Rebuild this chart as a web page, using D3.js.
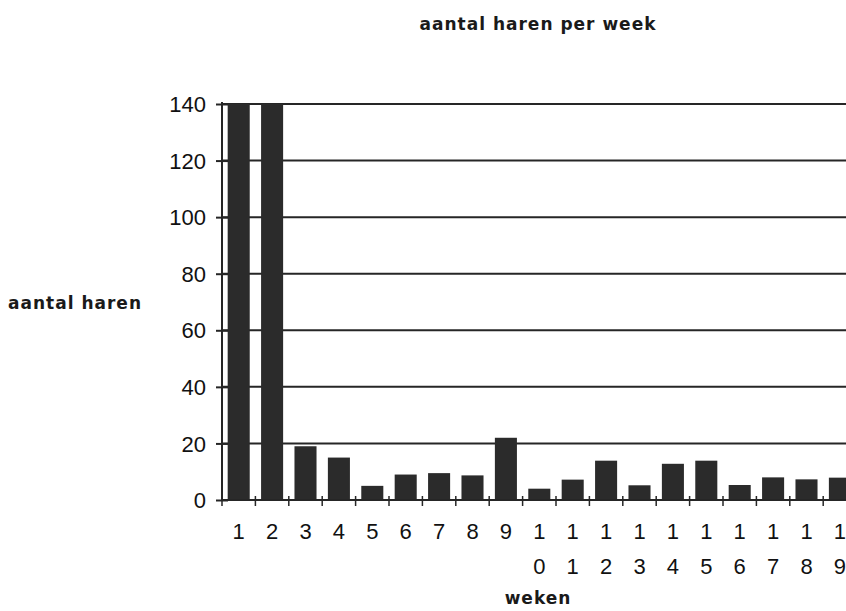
<!DOCTYPE html>
<html><head><meta charset="utf-8">
<script src="https://cdn.jsdelivr.net/npm/d3@7"></script>
<style>body{margin:0;background:#fff}svg{display:block}</style>
</head><body>
<script>
const weeks = ["1","2","3","4","5","6","7","8","9","10","11","12","13","14","15","16","17","18","19"];
const haren = [140,140,19,15,5,9,9.5,8.7,22,4,7.2,13.9,5.2,12.8,13.9,5.3,8,7.3,7.9];
const yTicks = [0,20,40,60,80,100,120,140];

const W=846,H=611;
const svg=d3.select("body").append("svg").attr("width",W).attr("height",H);
const x0=222, x1=222+33.4*19, yTop=104, yBot=500;
const x=d3.scaleBand().domain(weeks).range([x0,x1]).paddingInner(0.34).paddingOuter(0.17);
const y=d3.scaleLinear().domain([0,140]).range([yBot,yTop]);
const ink="#262626";

// gridlines
svg.append("g").selectAll("line").data(yTicks.filter(d=>d>0)).join("line")
  .attr("x1",x0).attr("x2",W).attr("y1",d=>y(d)).attr("y2",d=>y(d))
  .attr("stroke",ink).attr("stroke-width",2);

// bars
svg.append("g").selectAll("rect").data(haren).join("rect")
  .attr("x",(d,i)=>x(weeks[i])).attr("width",x.bandwidth())
  .attr("y",d=>y(Math.min(d,140))).attr("height",d=>yBot-y(Math.min(d,140)))
  .attr("fill","#2b2b2b");

// y axis
const ya=d3.axisLeft(y).tickValues(yTicks).tickSize(0).tickPadding(0).tickFormat(d3.format("d"));
const gy=svg.append("g").attr("transform",`translate(${x0},0)`).call(ya);
gy.select(".domain").remove();
gy.selectAll("text").attr("x",-16).attr("dy","0.35em").attr("fill","#111")
  .style("font-family","Liberation Sans, Arial, sans-serif").style("font-size","22px");
gy.selectAll(".tick").append("line").attr("x1",-6).attr("x2",6).attr("stroke",ink).attr("stroke-width",2);
svg.append("line").attr("x1",x0).attr("x2",x0).attr("y1",yTop-2).attr("y2",yBot+1).attr("stroke",ink).attr("stroke-width",2);

// x axis line
svg.append("line").attr("x1",x0).attr("x2",W).attr("y1",yBot).attr("y2",yBot).attr("stroke",ink).attr("stroke-width",2);
// x boundary ticks
const bounds=weeks.map((w,i)=>x0+ (x1-x0)/weeks.length*(i+1));
svg.append("g").selectAll("line").data([x0,...bounds]).join("line")
  .attr("x1",d=>d).attr("x2",d=>d).attr("y1",yBot-4).attr("y2",yBot+6)
  .attr("stroke",ink).attr("stroke-width",1.5);

// x labels (stacked digits)
const xl=svg.append("g").style("font-family","Liberation Sans, Arial, sans-serif").style("font-size","22px").attr("fill","#111");
weeks.forEach(w=>{
  const cx=x(w)+x.bandwidth()/2;
  w.split("").forEach((ch,j)=>{
    xl.append("text").attr("x",cx).attr("y",531+j*35).attr("dy","0.35em").attr("text-anchor","middle").text(ch);
  });
});

const lab={"font-family":"DejaVu Sans, sans-serif","font-size":"17px","font-weight":"bold","letter-spacing":"1px"};
function t(txt,xx,yy,anchor){const e=svg.append("text").attr("x",xx).attr("y",yy).attr("text-anchor",anchor).attr("fill","#1a1a1a").text(txt);
  for(const k in lab)e.style(k,lab[k]);return e;}
t("aantal haren per week",538,30,"middle");
t("aantal haren",75,309,"middle");
t("weken",538,604,"middle");
</script>
</body></html>
